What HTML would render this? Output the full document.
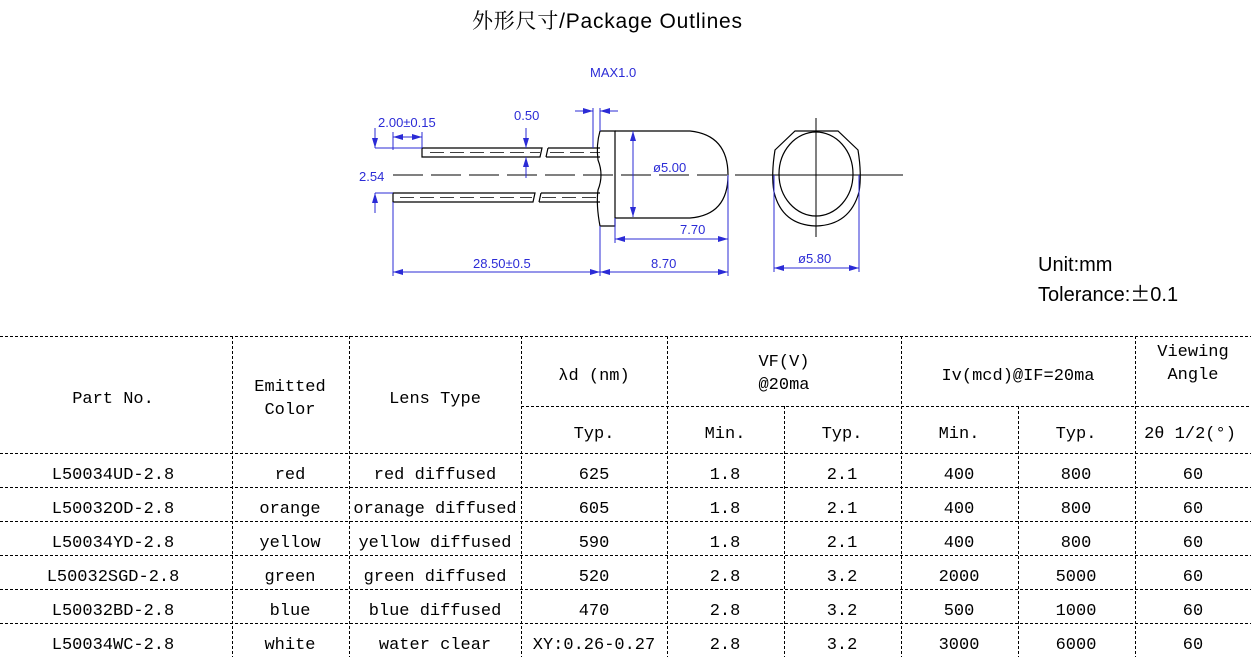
<!DOCTYPE html>
<html><head><meta charset="utf-8"><style>
html,body{margin:0;padding:0;background:#fff;}
svg{display:block;}
.b{fill:#2b2bd6;font-family:"Liberation Sans",sans-serif;font-size:13px;}
.t{font-family:"Liberation Mono","Noto Sans CJK SC",monospace;font-size:17px;fill:#000;text-anchor:middle;}
</style></head><body>
<svg width="1251" height="657" viewBox="0 0 1251 657" xmlns="http://www.w3.org/2000/svg">
<defs>
<marker id="a" viewBox="0 0 10 6" refX="10" refY="3" markerWidth="10" markerHeight="6" orient="auto-start-reverse" markerUnits="userSpaceOnUse"><path d="M0,0 L10,3 L0,6 z" fill="#2b2bd6"/></marker>
</defs>
<text x="472" y="28" font-family="'Noto Serif CJK SC','Liberation Sans',serif" font-size="21" fill="#000" textLength="270" lengthAdjust="spacing">外形尺寸<tspan font-family="'Liberation Sans',sans-serif">/Package Outlines</tspan></text>

<g stroke="#000" stroke-width="1.2" fill="none">
<path d="M422,148 L542,148 L540,157 L422,157 Z"/>
<path d="M548,148 L600,148 M546,157 L600,157 M548,148 L546,157"/>
<path d="M393,193 L535,193 L533,202 L393,202 Z"/>
<path d="M541,193 L600,193 M539,202 L600,202 M541,193 L539,202"/>
<path d="M600,131 L615,131 L615,226 L600,226 Q596,205 598,190 Q604,175 598,160 Q596,145 600,131 Z"/>
<path d="M615,131 L690,131 Q728,135 728,175 Q728,215 690,218 L615,218"/>
<path d="M795,131 L838,131 L858,150 Q862,175 859,192 Q850,225 816,226 Q782,225 774,192 Q771,175 775,150 Z"/>
<ellipse cx="816" cy="174" rx="37" ry="42"/>
<path d="M753,175 L903,175 M816,118 L816,237" stroke-width="1"/>
</g>
<path d="M393,175 L765,175" stroke="#000" stroke-width="1" stroke-dasharray="30,8"/>
<g stroke="#000" stroke-width="0.8" stroke-dasharray="14,6" fill="none">
<path d="M430,152.5 L540,152.5 M550,152.5 L600,152.5 M400,197.5 L532,197.5 M542,197.5 L600,197.5"/>
</g>

<g stroke="#2b2bd6" stroke-width="1" fill="none">
<path d="M633,131 L633,217" marker-start="url(#a)" marker-end="url(#a)"/>
<path d="M615,218 L615,243 M728,175 L728,276 M600,226 L600,276 M393,202 L393,276 M774,175 L774,272 M859,175 L859,272"/>
<path d="M615,239 L728,239" marker-start="url(#a)" marker-end="url(#a)"/>
<path d="M393,272 L600,272" marker-start="url(#a)" marker-end="url(#a)"/>
<path d="M600,272 L728,272" marker-start="url(#a)" marker-end="url(#a)"/>
<path d="M774,268 L859,268" marker-start="url(#a)" marker-end="url(#a)"/>
<path d="M593,108 L593,148 M600,108 L600,131"/>
<path d="M575,111 L593,111" marker-end="url(#a)"/><path d="M618,111 L600,111" marker-end="url(#a)"/>
<path d="M526,128 L526,148" marker-end="url(#a)"/><path d="M526,178 L526,157" marker-end="url(#a)"/>
<path d="M393,132 L393,150 M422,132 L422,148"/>
<path d="M393,137 L422,137" marker-start="url(#a)" marker-end="url(#a)"/>
<path d="M375,148 L422,148 M375,193 L393,193"/>
<path d="M375,128 L375,148" marker-end="url(#a)"/><path d="M375,213 L375,193" marker-end="url(#a)"/>
</g>
<text class="b" x="590" y="77">MAX1.0</text>
<text class="b" x="514" y="120">0.50</text>
<text class="b" x="378" y="127">2.00±0.15</text>
<text class="b" x="359" y="181" font-size="14">2.54</text>
<text class="b" x="653" y="172">ø5.00</text>
<text class="b" x="680" y="234">7.70</text>
<text class="b" x="473" y="268">28.50±0.5</text>
<text class="b" x="651" y="268">8.70</text>
<text class="b" x="798" y="263">ø5.80</text>

<text x="1038" y="271" font-family="'Liberation Sans',sans-serif" font-size="20">Unit:mm</text>
<text x="1038" y="301" font-family="'Liberation Sans','Noto Sans CJK SC',sans-serif" font-size="20">Tolerance:<tspan font-family="'Noto Sans CJK SC',sans-serif">±</tspan>0.1</text>

<g stroke="#000" stroke-width="1" stroke-dasharray="3,2" fill="none">
<path d="M0,336.5 H1251 M521,406.5 H1251 M0,453.5 H1251 M0,487.5 H1251 M0,521.5 H1251 M0,555.5 H1251 M0,589.5 H1251 M0,623.5 H1251"/>
<path d="M232.5,336 V657 M349.5,336 V657 M521.5,336 V657 M667.5,336 V657 M901.5,336 V657 M1135.5,336 V657 M784.5,406 V657 M1018.5,406 V657"/>
</g>
<g class="t">
<text x="113" y="403">Part No.</text>
<text x="290" y="391">Emitted</text><text x="290" y="414">Color</text>
<text x="435" y="403">Lens Type</text>
<text x="594" y="380">λd (nm)</text>
<text x="784" y="366">VF(V)</text><text x="784" y="389">@20ma</text>
<text x="1018" y="380">Iv(mcd)@IF=20ma</text>
<text x="1193" y="356">Viewing</text><text x="1193" y="379">Angle</text>
<text x="594" y="438">Typ.</text>
<text x="725" y="438">Min.</text><text x="842" y="438">Typ.</text>
<text x="959" y="438">Min.</text><text x="1076" y="438">Typ.</text>
<text x="1190" y="438">2θ 1/2(°)</text>

<text x="113" y="479">L50034UD-2.8</text><text x="290" y="479">red</text><text x="435" y="479">red diffused</text><text x="594" y="479">625</text><text x="725" y="479">1.8</text><text x="842" y="479">2.1</text><text x="959" y="479">400</text><text x="1076" y="479">800</text><text x="1193" y="479">60</text>
<text x="113" y="513">L50032OD-2.8</text><text x="290" y="513">orange</text><text x="435" y="513">oranage diffused</text><text x="594" y="513">605</text><text x="725" y="513">1.8</text><text x="842" y="513">2.1</text><text x="959" y="513">400</text><text x="1076" y="513">800</text><text x="1193" y="513">60</text>
<text x="113" y="547">L50034YD-2.8</text><text x="290" y="547">yellow</text><text x="435" y="547">yellow diffused</text><text x="594" y="547">590</text><text x="725" y="547">1.8</text><text x="842" y="547">2.1</text><text x="959" y="547">400</text><text x="1076" y="547">800</text><text x="1193" y="547">60</text>
<text x="113" y="581">L50032SGD-2.8</text><text x="290" y="581">green</text><text x="435" y="581">green diffused</text><text x="594" y="581">520</text><text x="725" y="581">2.8</text><text x="842" y="581">3.2</text><text x="959" y="581">2000</text><text x="1076" y="581">5000</text><text x="1193" y="581">60</text>
<text x="113" y="615">L50032BD-2.8</text><text x="290" y="615">blue</text><text x="435" y="615">blue diffused</text><text x="594" y="615">470</text><text x="725" y="615">2.8</text><text x="842" y="615">3.2</text><text x="959" y="615">500</text><text x="1076" y="615">1000</text><text x="1193" y="615">60</text>
<text x="113" y="649">L50034WC-2.8</text><text x="290" y="649">white</text><text x="435" y="649">water clear</text><text x="594" y="649">XY:0.26-0.27</text><text x="725" y="649">2.8</text><text x="842" y="649">3.2</text><text x="959" y="649">3000</text><text x="1076" y="649">6000</text><text x="1193" y="649">60</text>
</g>
</svg>
</body></html>
